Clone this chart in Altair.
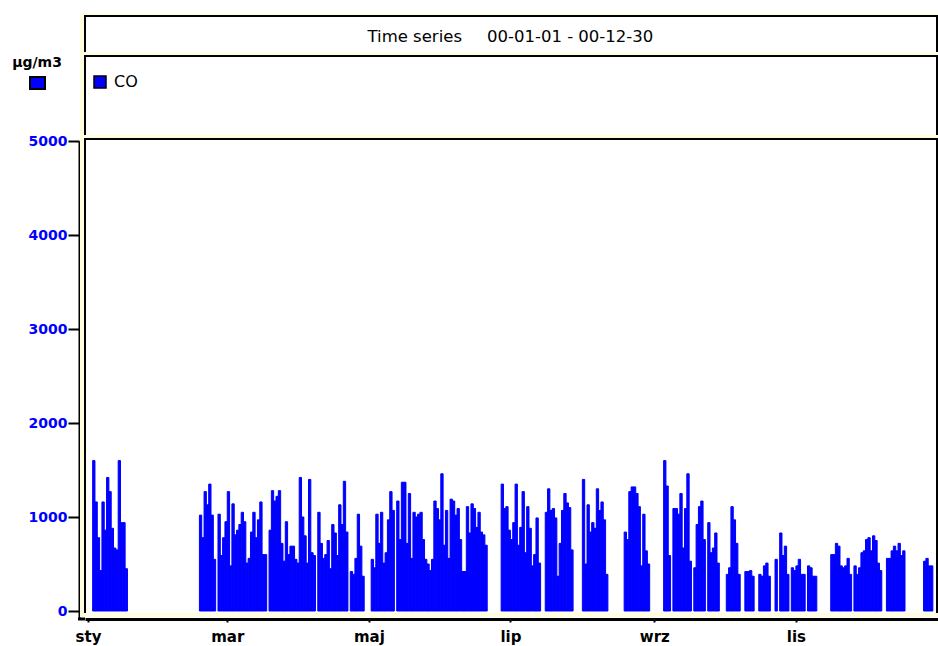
import altair as alt
import pandas as pd

N = None
# daily CO concentrations (µg/m3), year 2000, 1 Jan .. 30 Dec; None = no data
jan = [N, N, 1600, 1160, 780, 430, 1160, 860, 1420, 1270, 880, 670, 650, 1600, 940, 940, 450,
       N, N, N, N, N, N, N, N, N, N, N, N, N, N]
feb = [N, N, N, N, N, N, N, N, N, N, N, N, N, N, N, N, N,
       1020, 780, 1270, 1130, 1350, 1020, 550, N, 1030, 590, 780, 950]
mar = [1270, 480, 1140, 810, 860, 920, 1050, 950, 510, 560, 840, 1050, 780, 970, 1160, 600, 600, N,
       860, 1280, 1170, 1220, 1280, 720, 530, 950, 600, 690, 690, 550, 510]
apr = [1420, 1000, 800, 510, 1400, 620, 590, N, 1050, 720, 560, 600, 750, 450, 920, 830, 590, 1130,
       920, 1380, 840, N, 420, 390, 560, 1030, 690, 370, N, N]
may = [N, 550, 460, 1030, 720, 1050, 510, 620, 970, 1270, 1070, N, 1170, 760, 1370, 1370, 720, 1250,
       560, 1050, 1000, 1030, 1050, 760, 550, 500, 430, 550, 1170, 1090, 970]
jun = [1460, 700, 1070, 560, 1190, 1170, 1020, 1090, 760, 420, 420, 1110, 830, 1140, 1090, 890, 1050,
       840, 810, 700, N, N, N, N, N, N, 1350, 1090, 1110, 860]
jul = [760, 940, 1350, 700, 890, 1270, 620, 1110, 880, 480, 600, 990, 510, N, N, 1050, 1300, 1070,
       1090, 990, 370, 720, 1070, 1250, 1150, 1100, 650, N, N, N, N]
aug = [1400, 500, 1130, 840, 940, 880, 1300, 1070, 1160, 970, 390, N, N, N, N, N, N, N, 840, 760,
       1270, 1320, 1320, 1250, 1110, 480, 1030, 640, 500, N, N]
sep = [N, N, N, N, 1600, 1330, 590, N, 1090, 1090, 1030, 1250, 670, 1090, 1460, 530, N, 460, 920,
       1110, 1170, 760, N, 940, 620, 670, 830, 510, N, N]
octo = [N, 390, 460, 1110, 970, 720, 390, N, N, 420, 420, 430, 370, N, N, 390, 370, 480, 510, 370,
        N, N, 550, N, 830, 590, 690, 390, N, 460, 430]
nov = [480, 550, 390, 390, N, 480, 460, 370, 370, N, N, N, N, N, N, 600, 600, 720, 690, 480, 460,
       480, 560, 390, N, 480, 390, 460, 620, 640]
dec = [760, 780, 640, 800, 750, 510, 430, N, N, 560, 560, 640, 690, 640, 720, 590, 640, N, N, N, N,
       N, N, N, N, 530, 560, 480, 480, N]

months = [jan, feb, mar, apr, may, jun, jul, aug, sep, octo, nov, dec]
month_names = ["sty", "lut", "mar", "kwi", "maj", "cze", "lip", "sie", "wrz", "paź", "lis", "gru"]
y_ticks = [0, 1000, 2000, 3000, 4000, 5000]
series_name = "CO"
unit_label = "µg/m3"
title_left = "Time series"
title_right = "00-01-01 - 00-12-30"

# build table
days, vals, starts = [], [], []
d = 0
for m in months:
    starts.append(d)
    for v in m:
        if v is not None:
            days.append(d)
            vals.append(v)
        d += 1
df = pd.DataFrame({"day": days, "co": vals})

tick_days = starts[0::2]
tick_names = month_names[0::2]
label_expr = " : ".join(f"datum.value == {t} ? '{n}'" for t, n in zip(tick_days, tick_names)) + " : ''"

FONT = "DejaVu Sans"
BLUE = "#0000FF"
CREAM = "#FFFFE0"
W, H = 853, 478

bars = alt.Chart(df).transform_calculate(
    day_end="datum.day + 1", series=f"'{series_name}'"
).mark_bar(stroke=BLUE, strokeWidth=1).encode(
    x=alt.X("day:Q",
            scale=alt.Scale(domain=[-1.2925, 366.22], nice=False, zero=False),
            axis=alt.Axis(values=tick_days, labelExpr=label_expr, title=None, grid=False,
                          labelFont=FONT, labelFontWeight="bold", labelFontSize=15,
                          labelColor="black", tickColor="black", tickSize=3, tickWidth=2,
                          domainColor="black", domainWidth=3, labelPadding=7,
                          labelFlush=False, labelOverlap=False)),
    x2="day_end:Q",
    y=alt.Y("co:Q",
            scale=alt.Scale(domain=[-85, 5000], nice=False, zero=False),
            axis=alt.Axis(values=y_ticks, format="d", title=None, grid=False,
                          labelFont=FONT, labelFontWeight="bold", labelFontSize=14,
                          labelColor=BLUE, tickColor="black", tickSize=11, tickWidth=2,
                          domainColor="black", domainWidth=2, offset=6, labelPadding=1)),
    y2=alt.datum(0),
    color=alt.Color("series:N", scale=alt.Scale(domain=[series_name], range=[BLUE]),
                    legend=alt.Legend(title=None, orient="none", legendX=7, legendY=-67,
                                      symbolType="square", symbolSize=144,
                                      symbolStrokeColor="black", symbolStrokeWidth=1.5,
                                      labelFont=FONT, labelFontSize=16, labelColor="black",
                                      labelOffset=6, padding=0, symbolOffset=0)),
)

one = alt.InlineData(values=[{"k": 0}])


def rect(x1, x2, y1, y2, **kw):
    return alt.Chart(one).mark_rect(**kw).encode(
        x=alt.value(x1), x2=alt.value(x2), y=alt.value(y1), y2=alt.value(y2))


def hrule(x1, x2, y, w):
    return alt.Chart(one).mark_rule(color="black", strokeWidth=w).encode(
        x=alt.value(x1), x2=alt.value(x2), y=alt.value(y))


def vrule(x, y1, y2, w):
    return alt.Chart(one).mark_rule(color="black", strokeWidth=w).encode(
        x=alt.value(x), y=alt.value(y1), y2=alt.value(y2))


def text(x, y, s, **kw):
    return alt.Chart(one).mark_text(font=FONT, color="black", baseline="middle", **kw).encode(
        x=alt.value(x), y=alt.value(y), text=alt.value(s))


layers = [rect(-5, W, -128, 476, fill=CREAM)]
panels = [(-126, -89), (-86, -6), (-3, 472)]
for top, bot in panels:
    layers.append(rect(-1, W, top, bot, fill="white"))
for top, bot in panels:
    layers.append(hrule(-1, W, top + 1, 2))
    layers.append(vrule(0, top, bot, 2))
    layers.append(vrule(W - 1, top, bot, 2))
layers.append(bars)
layers.append(hrule(-7, 0, H, 3))
layers.append(text(377, -104, title_left, align="right", fontSize=16.5))
layers.append(text(402, -104, title_right, align="left", fontSize=16.5))
layers.append(text(-48, -78, unit_label, align="center", fontSize=14, fontWeight="bold"))
layers.append(rect(-55, -40, -64, -52, fill=BLUE, stroke="black", strokeWidth=2))

chart = alt.layer(*layers).properties(
    width=W, height=H,
    autosize=alt.AutoSizeParams(type="none"),
    padding={"left": 85, "top": 141, "right": 0, "bottom": 27},
    background="white",
).configure_view(stroke=None)

chart.save("out.html", embed_options={"renderer": "svg", "actions": False})
